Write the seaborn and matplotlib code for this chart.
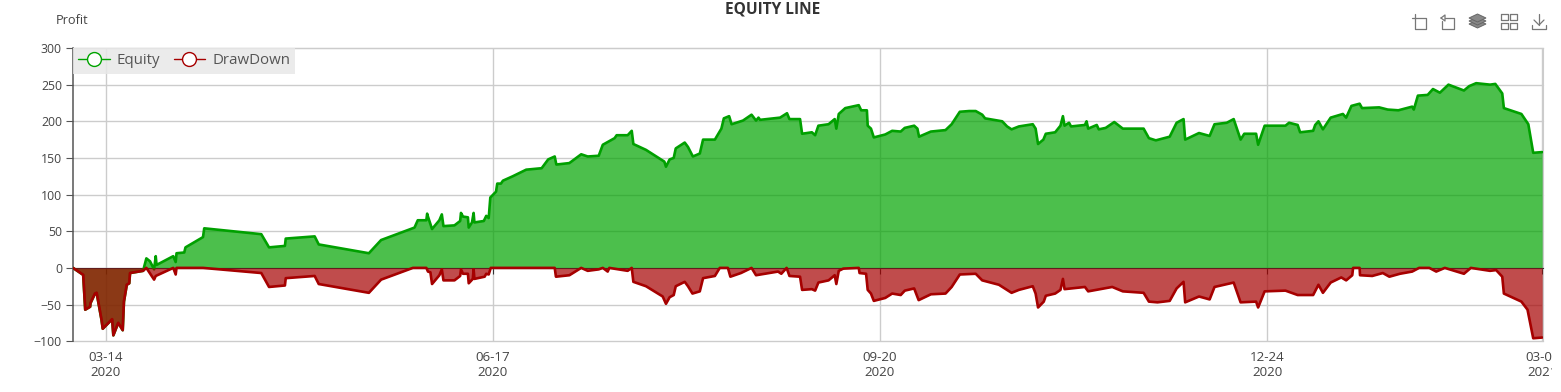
import pandas as pd
import matplotlib.pyplot as plt
import seaborn as sns
from matplotlib.lines import Line2D
from matplotlib.patches import Polygon
from matplotlib.transforms import Bbox

# days counted from 2020-03-06
equity_days = [0, 2.5, 3, 4.2, 4.3, 5.4, 5.8, 7, 7.3, 9.6, 9.9, 11.1, 12.2, 12.5, 13.2, 13.8, 14, 17.2, 18, 18.9, 19.9,
               20.3, 20.5, 24.6, 25.2, 25.4, 27.3, 27.6, 31.9, 32.2, 46.2, 48.1, 52, 52.2, 59.3, 60.3, 72.6, 75.6,
               83.8, 84.6, 86.7, 86.9, 87.1, 88.1, 89.9, 90.5, 90.9, 93.6, 95, 95.2, 95.7, 96.9, 97.1, 97.9, 98.3,
               98.5, 100.8, 101.4, 102, 102.4, 103.8, 104.1, 105, 105.5, 107.9, 111.2, 115, 116.6, 118.2, 118.6,
               121.8, 124.7, 126.3, 129, 130, 132.9, 133.4, 136.1, 137.1, 137.5, 140.6, 145.1, 145.5, 146.4, 147.4,
               147.9, 150.1, 150.9, 152.1, 153.8, 154.6, 157.5, 159.1, 159.7, 161, 161.6, 164.4, 166.5, 167.6, 168.2,
               168.6, 173.5, 175.2, 175.8, 178.4, 178.9, 181.3, 182.1, 182.9, 185.4, 186.9, 187.3, 187.9, 189.5,
               192.8, 193.4, 194.8, 195, 195.8, 196.5, 199.3, 201, 203.1, 204.1, 206.4, 207.2, 207.6, 210.5, 214.1,
               215.6, 217.6, 219.9, 221.5, 223.1, 223.8, 228, 229.2, 230.3, 232.1, 235.5, 236.2, 236.8, 238.1, 238.7,
               241, 242.3, 242.9, 243.3, 244.4, 244.9, 248.3, 248.7, 249.1, 251.2, 251.7, 253.4, 255.5, 257.6, 262.7,
               264, 265.7, 269.1, 270.8, 272.5, 272.9, 276.3, 278.9, 280.1, 283.1, 284.8, 286.5, 287.4, 290.3, 290.8,
               292.4, 297.5, 298.4, 300.5, 301.1, 304.3, 304.8, 305.6, 306.7, 308.6, 311.6, 312.4, 313.7, 315.7,
               316.3, 320.5, 322.6, 325.2, 328.6, 329, 330, 332.4, 333.7, 335.4, 337.5, 341.3, 342.6, 344.3, 347.7,
               349, 350.7, 351.1, 355.4, 357.1, 358.3, 360.5]
equity_values = [0, -9.5, -57, -53, -48, -35, -34, -71, -83, -70, -92, -75, -85, -46, -23, -21, -7, -4, 13, 9, -2,
                 16, 4, 16, 8, 20, 21, 28, 42, 54, 46, 28, 30, 40, 43, 32, 20, 38,
                 55, 65, 65, 74, 70, 53, 65, 73, 57, 58, 64, 75, 70, 69, 55, 62, 75,
                 62, 64, 71, 68, 96, 104, 115, 115, 119, 125, 134, 136, 148, 152, 141,
                 143, 155, 152, 153, 168, 177, 181, 181, 187, 169, 161, 145, 138, 148, 150,
                 163, 171, 165, 152, 156, 175, 175, 190, 204, 207, 196, 201, 209, 201, 205,
                 202, 205, 211, 203, 203, 183, 185, 181, 194, 196, 203, 190, 210, 218,
                 222, 215, 215, 194, 190, 178, 182, 187, 186, 191, 194, 190, 179, 186, 188,
                 196, 213, 214, 214, 209, 204, 200, 193, 189, 193, 196, 190, 169, 175, 183,
                 185, 194, 207, 194, 198, 193, 195, 200, 190, 195, 189, 191, 199, 190, 190,
                 177, 174, 179, 198, 203, 175, 184, 180, 196, 198, 203, 175, 183, 183, 168,
                 194, 194, 198, 195, 185, 187, 195, 200, 189, 205, 210, 205, 221, 224,
                 218, 219, 216, 215, 220, 216, 235, 236, 244, 239, 250, 242, 248, 252, 250,
                 251, 238, 218, 210, 196, 157, 158]

drawdown_days = [0, 2.5, 3, 4.2, 4.3, 5.4, 5.8, 7, 7.3, 9.6, 9.9, 11.1, 12.2, 12.5, 13.2, 13.8, 14, 17.2, 18, 19.9,
                 20.3, 24.6, 25.2, 25.4, 31.9, 46.2, 48.1, 52, 52.2, 59.3, 60.3, 72.6, 75.6, 83.4, 86.7, 87.1, 87.7,
                 88.1, 89.9, 90.5, 90.9, 93.6, 95, 95.2, 95.7, 96.9, 97.1, 98.1, 98.3, 98.5, 101, 101.4, 102, 102.5,
                 118.2, 118.5, 121.8, 124.7, 126.3, 129, 130, 131.2, 131.6, 136.1, 137.1, 137.5, 140.6, 144.7, 145.5,
                 146.4, 147.4, 147.9, 150.1, 150.9, 152, 153.8, 154.6, 157.5, 158.7, 160.7, 161.3, 163.9, 166.5,
                 167.6, 173, 173.8, 175.1, 175.8, 178.4, 178.9, 181.3, 182.1, 182.9, 185.4, 186.9, 187.3, 187.9, 189,
                 192.8, 193, 194.6, 195, 195.8, 196.5, 199.3, 201, 203.1, 204.1, 206.4, 207.5, 210.5, 214.1, 215.6,
                 217.6, 221.5, 223.1, 227.2, 229.2, 230.3, 232.1, 235.5, 236.2, 236.8, 238.2, 238.7, 241, 242.3,
                 242.9, 243.3, 248.3, 249.1, 255, 257.6, 262.7, 264, 266.1, 269.1, 270.8, 272.5, 272.9, 276.3, 278.9,
                 280.1, 284.8, 286.5, 290.3, 290.8, 292.4, 297.5, 300.5, 304.3, 305.6, 306.7, 308.6, 311.2, 312.4,
                 313.9, 314.1, 315.7, 315.8, 318.8, 321.4, 323, 325.6, 328.6, 330.3, 332.8, 334.5, 336.6, 341.3, 343,
                 347.7, 349.2, 350.7, 351.1, 355.4, 356.9, 358.3, 360.5]
drawdown_values = [0, -9.5, -57, -53, -48, -35, -34, -71, -83, -70, -92, -75, -85, -46, -23, -21, -7, -4, 0, -16,
                   -11, 0, -9, 0, 0, -7, -26, -24, -14, -11, -22, -34, -16, 0, 0, -5, -6,
                   -22, -10, -2, -17, -17, -11, -2, -8, -8, -21, -15, -2, -15, -12, -8, -9, 0,
                   0, -12, -10, 0, -4, -2, 0, -5, 0, -4, 0, -19, -25, -39, -49,
                   -40, -37, -25, -19, -25, -35, -32, -14, -11, 0, 0, -12, -7, 0,
                   -10, -5, -8, 0, -11, -12, -30, -29, -31, -20, -17, -10, -22, -4, -1,
                   0, -7, -8, -30, -35, -45, -41, -35, -37, -31, -28, -44, -36, -35, -26,
                   -9, -8, -17, -23, -30, -34, -30, -25, -35, -54, -46, -38, -35, -30,
                   -15, -29, -26, -32, -26, -32, -34, -46, -47, -45, -28, -19, -47, -39, -43,
                   -26, -20, -47, -46, -54, -32, -31, -37, -37, -23, -34, -20, -13, -17,
                   -10, 0, 0, -10, -11, -7, -12, -8, -5, 0, 0, -5, 0, -8, 0,
                   -4, -3, -12, -35, -46, -57, -96, -95]

tick_days = [8, 103, 198, 293, 360.5]
tick_labels = ["03-14\n2020", "06-17\n2020", "09-20\n2020", "12-24\n2020", "03-01\n2021"]
y_ticks = [-100, -50, 0, 50, 100, 150, 200, 250, 300]

GREEN = "#00a400"
RED = "#a60000"
W, H = 1561, 392

sns.set_style("white")
plt.rcParams["font.family"] = ["Open Sans", "DejaVu Sans"]

equity = pd.DataFrame({"day": equity_days, "value": equity_values})
drawdown = pd.DataFrame({"day": drawdown_days, "value": drawdown_values})

fig = plt.figure(figsize=(W / 100, H / 100), dpi=100)
ax = fig.add_axes([73 / W, 1 - 341.2 / H, (1543 - 73) / W, (341.2 - 48) / H])

ax.fill_between(equity["day"], equity["value"], 0, color=GREEN, alpha=0.7, lw=0, zorder=2)
sns.lineplot(data=equity, x="day", y="value", sort=False, errorbar=None, color="#00a000", lw=1.9, ax=ax, zorder=3)
ax.fill_between(drawdown["day"], drawdown["value"], 0, color=RED, alpha=0.7, lw=0, zorder=4)
sns.lineplot(data=drawdown, x="day", y="value", sort=False, errorbar=None, color=RED, lw=1.9, ax=ax, zorder=5)

ax.set_xlim(0, 360.7)
ax.set_ylim(-100, 300)
ax.set_xlabel("")
ax.set_ylabel("")
ax.set_axisbelow(True)
ax.grid(True, color="#cccccc", lw=1)
ax.set_yticks(y_ticks)
for gl in ax.get_ygridlines():
    gl.set_clip_on(False)

ax.set_xticks(tick_days)
ax.set_xticklabels(tick_labels, linespacing=0.72)
ax.spines["bottom"].set_position(("data", 0))
ax.spines["bottom"].set_color("#333333")
ax.spines["left"].set_color("#555555")
ax.spines["left"].set_linewidth(1.1)
ax.spines["top"].set_color("#cccccc")
ax.spines["right"].set_color("#cccccc")
ax.tick_params(axis="y", length=5, width=0.8, color="#555555", labelsize=8.8, labelcolor="#444444", pad=3, left=True)
ax.tick_params(axis="x", length=4, width=0.8, color="#333333", labelsize=9.6, labelcolor="#444444", pad=56, bottom=True)

# last label runs off the canvas in the original
last = ax.get_xticklabels()[-1]
last.set_clip_box(Bbox([[0, 0], [1552, H]]))
last.set_clip_on(True)

handles = [
    Line2D([], [], color=GREEN, lw=1, marker="o", ms=10, mfc="white", mec=GREEN, mew=1, label="Equity"),
    Line2D([], [], color=RED, lw=1, marker="o", ms=10, mfc="white", mec=RED, mew=1, label="DrawDown"),
]
ax.legend(handles=handles, loc="upper left", bbox_to_anchor=(0, 1), borderaxespad=0, fontsize=10.8, ncol=2,
          frameon=True, fancybox=False, facecolor="#e8e8e8", edgecolor="none", framealpha=0.85,
          labelcolor="#555555", handlelength=2.1, handletextpad=0.46, columnspacing=0.9, borderpad=0.35)

fig.text(773 / W, 1 - 9 / H, "EQUITY LINE", ha="center", va="center", fontsize=11.2, fontweight="bold", color="#333333")
fig.text(56 / W, 1 - 21 / H, "Profit", ha="left", va="center", fontsize=9.2, color="#444444")


# toolbox icons at the top right, given in pixels of the figure
def icon(points, fill=None):
    xs = [p[0] / W for p in points]
    ys = [1 - p[1] / H for p in points]
    if fill:
        fig.add_artist(Polygon(list(zip(xs, ys)), closed=True, facecolor=fill, edgecolor="#666666", lw=0.7,
                               transform=fig.transFigure))
    else:
        fig.add_artist(Line2D(xs, ys, color="#777777", lw=0.9, transform=fig.transFigure))


icon([(1412, 18), (1426, 18), (1426, 29), (1415, 29), (1415, 14)])
icon([(1445, 18), (1454, 18), (1454, 29), (1442, 29), (1442, 21)])
icon([(1441, 18), (1445, 15), (1445, 21), (1441, 18)])
for top in (21, 18, 15):
    icon([(1469, top + 3), (1477.5, top - 1), (1486, top + 3), (1477.5, top + 7)], fill="#888888")
for gx, gy in [(1501, 14), (1510, 14), (1501, 23), (1510, 23)]:
    icon([(gx, gy), (gx + 7, gy), (gx + 7, gy + 6), (gx, gy + 6), (gx, gy)])
icon([(1539, 14), (1539, 25)])
icon([(1534, 20), (1539, 25), (1544, 20)])
icon([(1532, 25), (1532, 29), (1546, 29), (1546, 25)])

fig.savefig("out.png", dpi=100)
